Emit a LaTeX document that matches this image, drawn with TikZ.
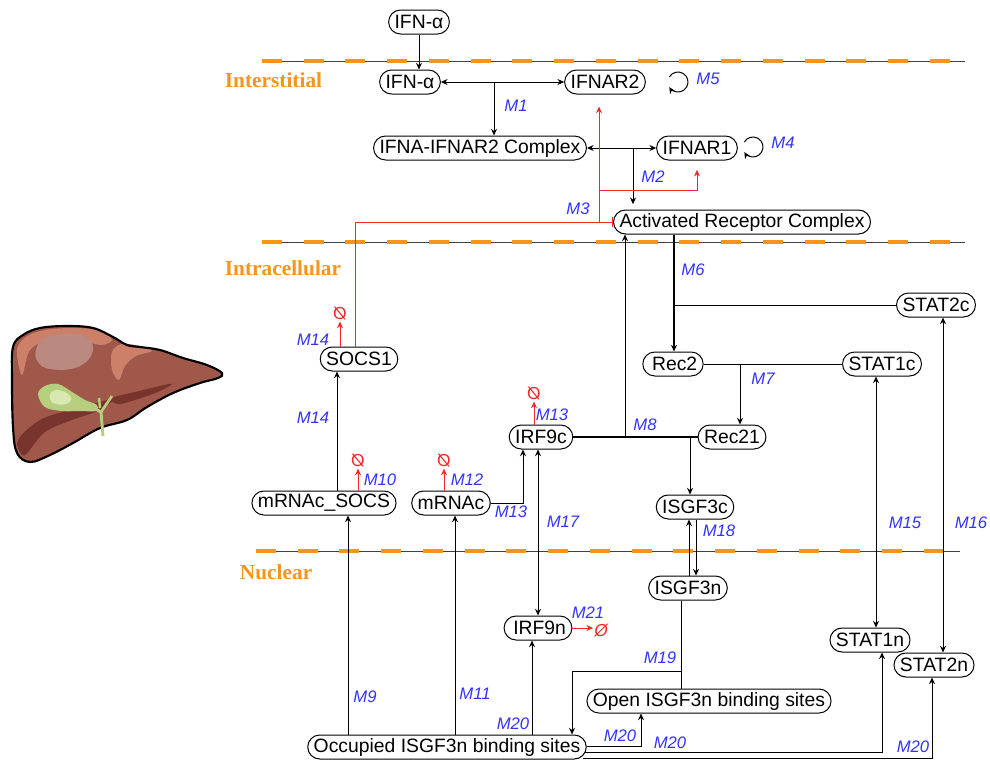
\documentclass[tikz,border=0pt]{standalone}
\usepackage{fontspec}
\setmainfont{Liberation Sans}
\newfontfamily\compfont{Liberation Serif}
\usetikzlibrary{arrows.meta,positioning,calc}

\definecolor{rateblue}{RGB}{51,51,255}
\definecolor{lossred}{RGB}{240,40,40}
\definecolor{comporange}{RGB}{247,148,29}
\definecolor{liverbrown}{RGB}{160,88,74}
\definecolor{liversalmon}{RGB}{204,128,106}
\definecolor{liverpale}{RGB}{186,138,128}
\definecolor{liverdark}{RGB}{122,52,46}
\definecolor{gallgreen}{RGB}{181,207,126}
\definecolor{galllight}{RGB}{216,232,176}

\begin{document}
\begin{tikzpicture}[x=0.75pt, y=-0.75pt, line width=0.75pt, >={Stealth[length=5pt,width=4.5pt]},
	species/.style={draw, rounded corners=9pt, minimum height=18pt, inner xsep=4.5pt, inner ysep=1pt, font=\fontsize{14.5}{16}\selectfont},
	rate/.style={text=rateblue, inner sep=1pt, font=\fontsize{12.5}{14}\selectfont\itshape},
	sink/.style={text=lossred, inner sep=0.5pt, font=\fontsize{13}{14}\selectfont},
	loss/.style={draw=lossred, ->},
	inhib/.style={draw=lossred, -{Bar[width=8pt]}},
	region/.style={text=comporange, anchor=west, font=\compfont\bfseries\fontsize{16}{18}\selectfont},
	bigflow/.style={line width=1.2pt}]
	\useasboundingbox (0,0) rectangle (990,760);

	% membranes
	\foreach \xa/\xb/\yy in {262/965/61, 262/965/242, 256/960/551} {
		\draw[black!75, line width=0.6pt] (\xa,\yy) -- (\xb,\yy);
		\draw[comporange, line width=3pt, dash pattern=on 15pt off 16.3pt] (\xa,\yy) -- (\xb,\yy);
	}
	\node[region] (interst) at (220,80) {Interstitial};
	\node[region] (intra) at (220,268) {Intracellular};
	\node[region] (nucl) at (235,572) {Nuclear};

	% liver
	\fill[liverbrown] plot[smooth cycle, tension=0.6] coordinates {(13,347) (23,335) (40,328) (67,326) (93,328) (113,337) (127,345) (140,347) (160,350) (183,358) (207,365) (222,373) (218,378) (200,383) (173,393) (147,407) (127,420) (100,428) (73,443) (50,455) (30,462) (17,453) (13,427) (12,380)};
	\fill[liversalmon] plot[smooth cycle, tension=0.6] coordinates {(17,350) (26,337) (45,330) (75,328) (100,331) (112,340) (100,345) (80,340) (50,340) (30,350) (22,375)};
	\fill[liverpale] plot[smooth cycle, tension=0.7] coordinates {(36,350) (45,338) (70,334) (90,340) (91,356) (75,368) (50,369) (38,362)};
	\fill[liversalmon] plot[smooth cycle, tension=0.6] coordinates {(112,352) (122,344) (140,346) (152,351) (136,356) (125,366) (119,380) (112,370)};
	\fill[liverdark] plot[smooth cycle, tension=0.6] coordinates {(18,440) (40,420) (70,410) (100,402) (115,398) (100,410) (72,420) (45,432) (28,452) (22,455)};
	\fill[liverdark] plot[smooth cycle, tension=0.6] coordinates {(112,398) (135,392) (160,386) (172,384) (158,392) (135,400) (118,404)};
	\draw[black, line width=1.6pt] plot[smooth cycle, tension=0.6] coordinates {(13,347) (23,335) (40,328) (67,326) (93,328) (113,337) (127,345) (140,347) (160,350) (183,358) (207,365) (222,373) (218,378) (200,383) (173,393) (147,407) (127,420) (100,428) (73,443) (50,455) (30,462) (17,453) (13,427) (12,380)};
	\draw[gallgreen, line width=2.2pt] (92,407) -- (101,412) -- (103,436);
	\draw[gallgreen, line width=2pt] (101,412) -- (112,396);
	\draw[gallgreen, line width=1.8pt] (100,408) -- (99,398);
	\fill[gallgreen] plot[smooth cycle, tension=0.6] coordinates {(38,394) (45,386) (58,384) (72,392) (85,400) (97,405) (96,411) (80,411) (62,411) (45,407)};
	\fill[galllight] plot[smooth cycle, tension=0.7] coordinates {(50,394) (59,390) (71,397) (66,404) (53,403)};

	% species
	\node[species] (ifnOut) at (419,22) {IFN-α};
	\node[species] (ifn) at (410,82) {IFN-α};
	\node[species] (ifnar2) at (605,82) {IFNAR2};
	\node[species] (cplx) at (480,148) {IFNA-IFNAR2 Complex};
	\node[species] (ifnar1) at (697,148) {IFNAR1};
	\node[species] (actRC) at (742,222) {Activated Receptor Complex};
	\node[species] (stat2c) at (936,305) {STAT2c};
	\node[species] (rec2) at (673,364) {\,Rec2};
	\node[species] (stat1c) at (882,364) {STAT1c};
	\node[species] (rec21) at (732,437) {Rec21};
	\node[species] (irf9c) at (541,437) {IRF9c};
	\node[species] (socs1) at (359,359) {SOCS1};
	\node[species] (mrnasocs) at (324,503) {mRNAc\_SOCS};
	\node[species] (mrnac) at (451,503) {mRNAc};
	\node[species] (isgf3c) at (695,507) {ISGF3c};
	\node[species] (isgf3n) at (688,588) {ISGF3n};
	\node[species] (irf9n) at (538,628) {\,IRF9n};
	\node[species] (stat1n) at (870,640) {STAT1n};
	\node[species] (stat2n) at (934,665) {STAT2n};
	\node[species] (openBS) at (709,701) {Open ISGF3n binding sites};
	\node[species] (occBS) at (447,747) {Occupied ISGF3n binding sites};

	% sinks
	\node[sink] (sSOCS) at (340,314) {\reflectbox{Ø}};
	\node[sink] (sMSOCS) at (358,461) {\reflectbox{Ø}};
	\node[sink] (sMRNA) at (444,461) {\reflectbox{Ø}};
	\node[sink] (sIRF9c) at (534,394) {\reflectbox{Ø}};
	\node[sink] (sIRF9n) at (601,631) {\itshape Ø};

	% branch points
	\coordinate (m1) at (494,82);
	\coordinate (m2) at (633,148);
	\coordinate (m3) at (599,222);
	\coordinate (m2r) at (599,190);
	\coordinate (m6) at (674,305);
	\coordinate (m7) at (740,364);
	\coordinate (m8) at (625,437);
	\coordinate (m8b) at (690,437);
	\coordinate (m18up) at (689,550);
	\coordinate (m18dn) at (696,550);
	\coordinate (m15) at (876,500);
	\coordinate (m16) at (943,500);
	\coordinate (m19) at (681,671);
	\coordinate (m19b) at (572,671);
	\coordinate (m20a) at (641,746);
	\coordinate (m20b) at (882,752);
	\coordinate (m20c) at (932,758);
	\coordinate (m9) at (348,700);
	\coordinate (m11) at (455,700);
	\coordinate (m20d) at (532,700);
	\coordinate (m14) at (337,430);
	\coordinate (m13) at (523,503);
	\coordinate (m17) at (538,530);

	% receptor binding
	\draw[->] (ifnOut) -- (ifnOut |- ifn.north);
	\draw[<->] (ifn.east) -- (ifnar2.west);
	\draw[->] (m1) -- (m1 |- cplx.north);
	\draw[<->] (cplx.east) -- (ifnar1.west);
	\draw[->, shorten >=4pt] (m2) -- (m2 |- actRC.north);
	\draw[->] ([shift={(-150:10)}]753,147) arc[start angle=-150, end angle=150, radius=10];
	\draw[->] ([shift={(-150:10)}]678,82) arc[start angle=-150, end angle=150, radius=10];

	% SOCS1 feedback
	\draw[inhib] ([xshift=-3pt]socs1.north) |- (actRC.west);
	\draw[lossred, ->, shorten >=9pt] (m3) -- (m3 |- ifnar2.south);
	\draw[lossred, ->, shorten >=7pt] (m2r) -| (ifnar1.south);

	% cytoplasm
	\draw[bigflow, ->] (actRC.south -| m6) -- (m6 |- rec2.north);
	\draw (m6) -- (stat2c.west);
	\draw (rec2.east) -- (stat1c.west);
	\draw[->] (m7) -- (m7 |- rec21.north);
	\draw[bigflow] (irf9c.east) -- (rec21.west);
	\draw[->] (m8) -- (m8 |- actRC.south);
	\draw[->] (m8b) -- (m8b |- isgf3c.north);
	\draw[->] (m18up |- isgf3n.north) -- (m18up |- isgf3c.south);
	\draw[->] (m18dn |- isgf3c.south) -- (m18dn |- isgf3n.north);
	\draw[<->] (m15 |- stat1c.south) -- (m15 |- stat1n.north);
	\draw[<->] (m16 |- stat2c.south) -- (m16 |- stat2n.north);
	\draw[->] (mrnac.east) -| (m13 |- irf9c.south);
	\draw[<->] (m17 |- irf9c.south) -- (m17 |- irf9n.north);
	\draw[->] (m14 |- mrnasocs.north) -- (m14 |- socs1.south);

	% nucleus
	\draw (m19 |- isgf3n.south) -- (m19 |- openBS.north);
	\draw[->] (m19) -- (m19b) -- (m19b |- occBS.north);
	\draw[->] (occBS.east |- m20a) -- (m20a) -- (m20a |- openBS.south);
	\draw[->] ([xshift=-1pt]occBS.east |- m20b) -- (m20b) -- (m20b |- stat1n.south);
	\draw[->] ([xshift=-3pt]occBS.east |- m20c) -- (m20c) -- (m20c |- stat2n.south);
	\draw[->] (m9 |- occBS.north) -- (m9 |- mrnasocs.south);
	\draw[->] (m11 |- occBS.north) -- (m11 |- mrnac.south);
	\draw[->] (m20d |- occBS.north) -- (m20d |- irf9n.south);

	% degradation
	\draw[loss] (socs1.north -| sSOCS) -- (sSOCS.south);
	\draw[loss] (mrnasocs.north -| sMSOCS) -- (sMSOCS.south);
	\draw[loss] (mrnac.north -| sMRNA) -- (sMRNA.south);
	\draw[loss] (irf9c.north -| sIRF9c) -- (sIRF9c.south);
	\draw[loss] (irf9n.east) -- (sIRF9n.west |- irf9n.east);

	% rate labels
	\node[rate] (lM1) at (516,106) {M1};
	\node[rate] (lM2) at (653,177) {M2};
	\node[rate] (lM3) at (578,209) {M3};
	\node[rate] (lM4) at (783,143) {M4};
	\node[rate] (lM5) at (708,79) {M5};
	\node[rate] (lM6) at (693,270) {M6};
	\node[rate] (lM7) at (763,379) {M7};
	\node[rate] (lM8) at (645,425) {M8};
	\node[rate] (lM9) at (365,697) {M9};
	\node[rate] (lM10) at (380,480) {M10};
	\node[rate] (lM11) at (475,694) {M11};
	\node[rate] (lM12) at (467,480) {M12};
	\node[rate] (lM13a) at (552,415) {M13};
	\node[rate] (lM13b) at (511,512) {M13};
	\node[rate] (lM14a) at (313,340) {M14};
	\node[rate] (lM14b) at (313,418) {M14};
	\node[rate] (lM15) at (905,523) {M15};
	\node[rate] (lM16) at (971,523) {M16};
	\node[rate] (lM17) at (563,522) {M17};
	\node[rate] (lM18) at (719,531) {M18};
	\node[rate] (lM19) at (660,658) {M19};
	\node[rate] (lM20a) at (513,724) {M20};
	\node[rate] (lM20b) at (620,736) {M20};
	\node[rate] (lM20c) at (670,743) {M20};
	\node[rate] (lM20d) at (913,747) {M20};
	\node[rate] (lM21) at (588,613) {M21};
\end{tikzpicture}
\end{document}
